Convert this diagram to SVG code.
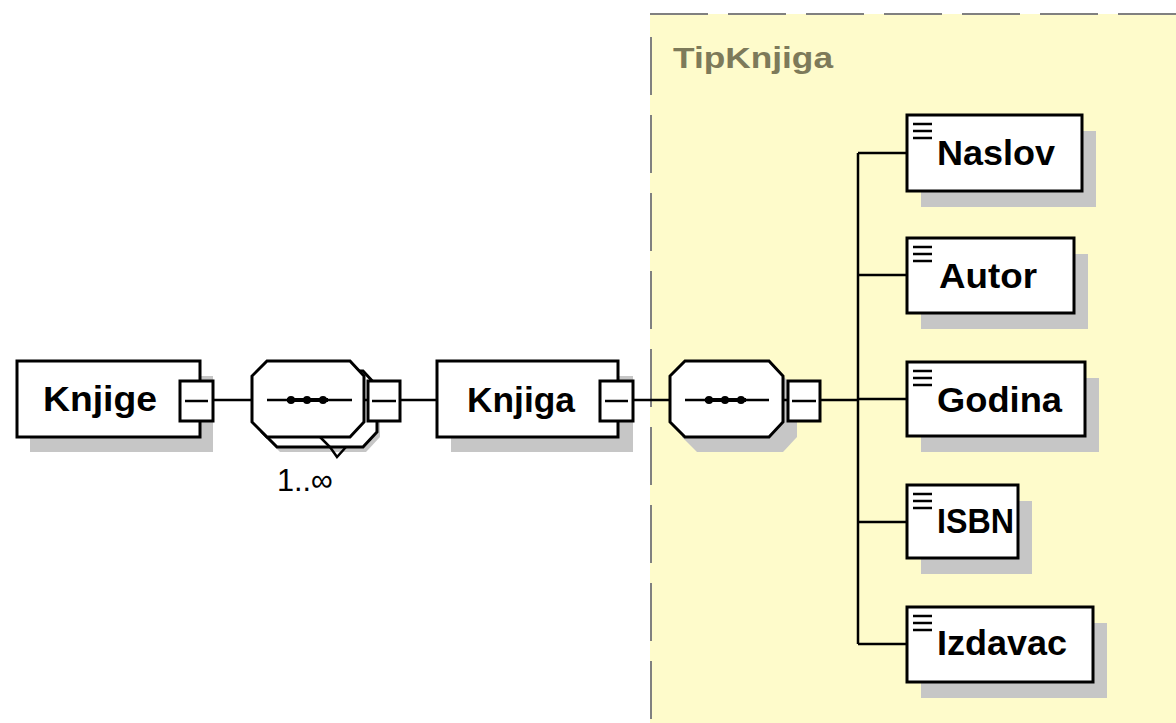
<svg xmlns="http://www.w3.org/2000/svg" width="1176" height="723" viewBox="0 0 1176 723">
  <style>
    .box { fill: #ffffff; stroke: #000000; stroke-width: 3; }
    .shadow { fill: #c6c6c6; stroke: none; }
    .conn { stroke: #000000; stroke-width: 2.5; fill: none; }
    .label { font-family: "Liberation Sans", Arial, sans-serif; font-weight: bold; font-size: 35px; fill: #000000; }
    .occurs { font-family: "Liberation Sans", Arial, sans-serif; font-size: 32px; fill: #000000; }
    .typename { font-family: "Liberation Sans", Arial, sans-serif; font-weight: bold; font-size: 29px; fill: #7d7a5a; }
    .icon { stroke: #000000; stroke-width: 2.5; }
    .dot { fill: #000000; }
  </style>

  <rect x="0" y="0" width="1176" height="723" fill="#ffffff"/>

  <!-- complex type area -->
  <g id="TipKnjiga">
    <rect x="650" y="14" width="540" height="720" fill="#fefbcb"/>
    <line x1="650" y1="14" x2="1176" y2="14" stroke="#808080" stroke-width="2" stroke-dasharray="58 20"/>
    <line x1="651" y1="37" x2="651" y2="723" stroke="#808080" stroke-width="2" stroke-dasharray="58 20"/>
    <text class="typename" x="673" y="68" textLength="160" lengthAdjust="spacingAndGlyphs">TipKnjiga</text>
  </g>

  <!-- connectors -->
  <g id="connectors">
    <line class="conn" x1="213" y1="400" x2="252" y2="400"/>
    <line class="conn" x1="400" y1="400" x2="437" y2="400"/>
    <line class="conn" x1="633" y1="400" x2="670" y2="400"/>
    <line class="conn" x1="820" y1="400" x2="858" y2="400"/>
    <line class="conn" x1="858" y1="153" x2="858" y2="644"/>
    <line class="conn" x1="858" y1="153" x2="907" y2="153"/>
    <line class="conn" x1="858" y1="275" x2="907" y2="275"/>
    <line class="conn" x1="858" y1="399" x2="907" y2="399"/>
    <line class="conn" x1="858" y1="522" x2="907" y2="522"/>
    <line class="conn" x1="858" y1="644" x2="907" y2="644"/>
  </g>

  <!-- root element -->
  <g id="Knjige">
    <rect class="shadow" x="30" y="376" width="183" height="76"/>
    <rect class="box" x="17" y="361" width="183" height="76"/>
    <text class="label" x="43" y="411" textLength="114" lengthAdjust="spacingAndGlyphs">Knjige</text>
    <rect class="box" x="180" y="381" width="33" height="40"/>
    <line class="conn" x1="185" y1="401" x2="208" y2="401"/>
  </g>

  <!-- sequence 1..unbounded -->
  <g id="sequence1">
    <polygon class="shadow" points="280,376 366,376 380,391 380,437 366,452 280,452 265,437 265,391"/>
    <polygon class="box" points="277,371 363,371 377,386 377,432 363,447 277,447 262,432 262,386"/>
    <polygon class="box" points="267,361 350,361 364,376 364,422 350,437 267,437 252,422 252,376"/>
    <polyline class="conn" points="320,437 330,447 337,457 346,447"/>
    <line class="conn" x1="267" y1="400" x2="352" y2="400"/>
    <line x1="287" y1="400" x2="328" y2="400" stroke="#000" stroke-width="4"/>
    <circle class="dot" cx="291" cy="400" r="4"/>
    <circle class="dot" cx="307" cy="400" r="4"/>
    <circle class="dot" cx="323" cy="400" r="4"/>
    <line class="conn" x1="364" y1="400" x2="368" y2="400"/>
    <rect class="box" x="368" y="381" width="32" height="40"/>
    <line class="conn" x1="372" y1="401" x2="396" y2="401"/>
    <text class="occurs" x="277" y="491" textLength="56" lengthAdjust="spacingAndGlyphs">1..∞</text>
  </g>

  <!-- repeated element -->
  <g id="Knjiga">
    <rect class="shadow" x="451" y="376" width="182" height="76"/>
    <rect class="box" x="437" y="361" width="181" height="76"/>
    <text class="label" x="467" y="412" textLength="108" lengthAdjust="spacingAndGlyphs">Knjiga</text>
    <rect class="box" x="600" y="381" width="33" height="40"/>
    <line class="conn" x1="605" y1="401" x2="628" y2="401"/>
  </g>

  <!-- sequence of book fields -->
  <g id="sequence2">
    <polygon class="shadow" points="697,376 783,376 797,391 797,437 783,452 697,452 682,437 682,391"/>
    <polygon class="box" points="685,361 769,361 783,376 783,422 769,437 685,437 670,422 670,376"/>
    <line class="conn" x1="685" y1="400" x2="769" y2="400"/>
    <line x1="705" y1="400" x2="746" y2="400" stroke="#000" stroke-width="4"/>
    <circle class="dot" cx="709" cy="400" r="4"/>
    <circle class="dot" cx="725" cy="400" r="4"/>
    <circle class="dot" cx="741" cy="400" r="4"/>
    <line class="conn" x1="783" y1="400" x2="788" y2="400"/>
    <rect class="box" x="788" y="381" width="32" height="40"/>
    <line class="conn" x1="792" y1="401" x2="816" y2="401"/>
  </g>

  <!-- leaf elements -->
  <g id="Naslov">
    <rect class="shadow" x="921" y="131" width="175" height="76"/>
    <rect class="box" x="907" y="115" width="175" height="76"/>
    <line class="icon" x1="913" y1="124" x2="932" y2="124"/>
    <line class="icon" x1="913" y1="131" x2="932" y2="131"/>
    <line class="icon" x1="913" y1="138" x2="932" y2="138"/>
    <text class="label" x="937" y="165" textLength="118" lengthAdjust="spacingAndGlyphs">Naslov</text>
  </g>

  <g id="Autor">
    <rect class="shadow" x="921" y="254" width="167" height="75"/>
    <rect class="box" x="907" y="238" width="167" height="75"/>
    <line class="icon" x1="913" y1="247" x2="932" y2="247"/>
    <line class="icon" x1="913" y1="254" x2="932" y2="254"/>
    <line class="icon" x1="913" y1="261" x2="932" y2="261"/>
    <text class="label" x="939" y="288" textLength="98" lengthAdjust="spacingAndGlyphs">Autor</text>
  </g>

  <g id="Godina">
    <rect class="shadow" x="921" y="378" width="178" height="74"/>
    <rect class="box" x="907" y="362" width="178" height="74"/>
    <line class="icon" x1="913" y1="371" x2="932" y2="371"/>
    <line class="icon" x1="913" y1="378" x2="932" y2="378"/>
    <line class="icon" x1="913" y1="385" x2="932" y2="385"/>
    <text class="label" x="937" y="412" textLength="125" lengthAdjust="spacingAndGlyphs">Godina</text>
  </g>

  <g id="ISBN">
    <rect class="shadow" x="921" y="501" width="111" height="73"/>
    <rect class="box" x="907" y="485" width="111" height="73"/>
    <line class="icon" x1="913" y1="494" x2="932" y2="494"/>
    <line class="icon" x1="913" y1="501" x2="932" y2="501"/>
    <line class="icon" x1="913" y1="508" x2="932" y2="508"/>
    <text class="label" x="937" y="533" textLength="77" lengthAdjust="spacingAndGlyphs">ISBN</text>
  </g>

  <g id="Izdavac">
    <rect class="shadow" x="921" y="623" width="186" height="75"/>
    <rect class="box" x="907" y="607" width="186" height="75"/>
    <line class="icon" x1="913" y1="616" x2="932" y2="616"/>
    <line class="icon" x1="913" y1="623" x2="932" y2="623"/>
    <line class="icon" x1="913" y1="630" x2="932" y2="630"/>
    <text class="label" x="937" y="655" textLength="130" lengthAdjust="spacingAndGlyphs">Izdavac</text>
  </g>
</svg>
